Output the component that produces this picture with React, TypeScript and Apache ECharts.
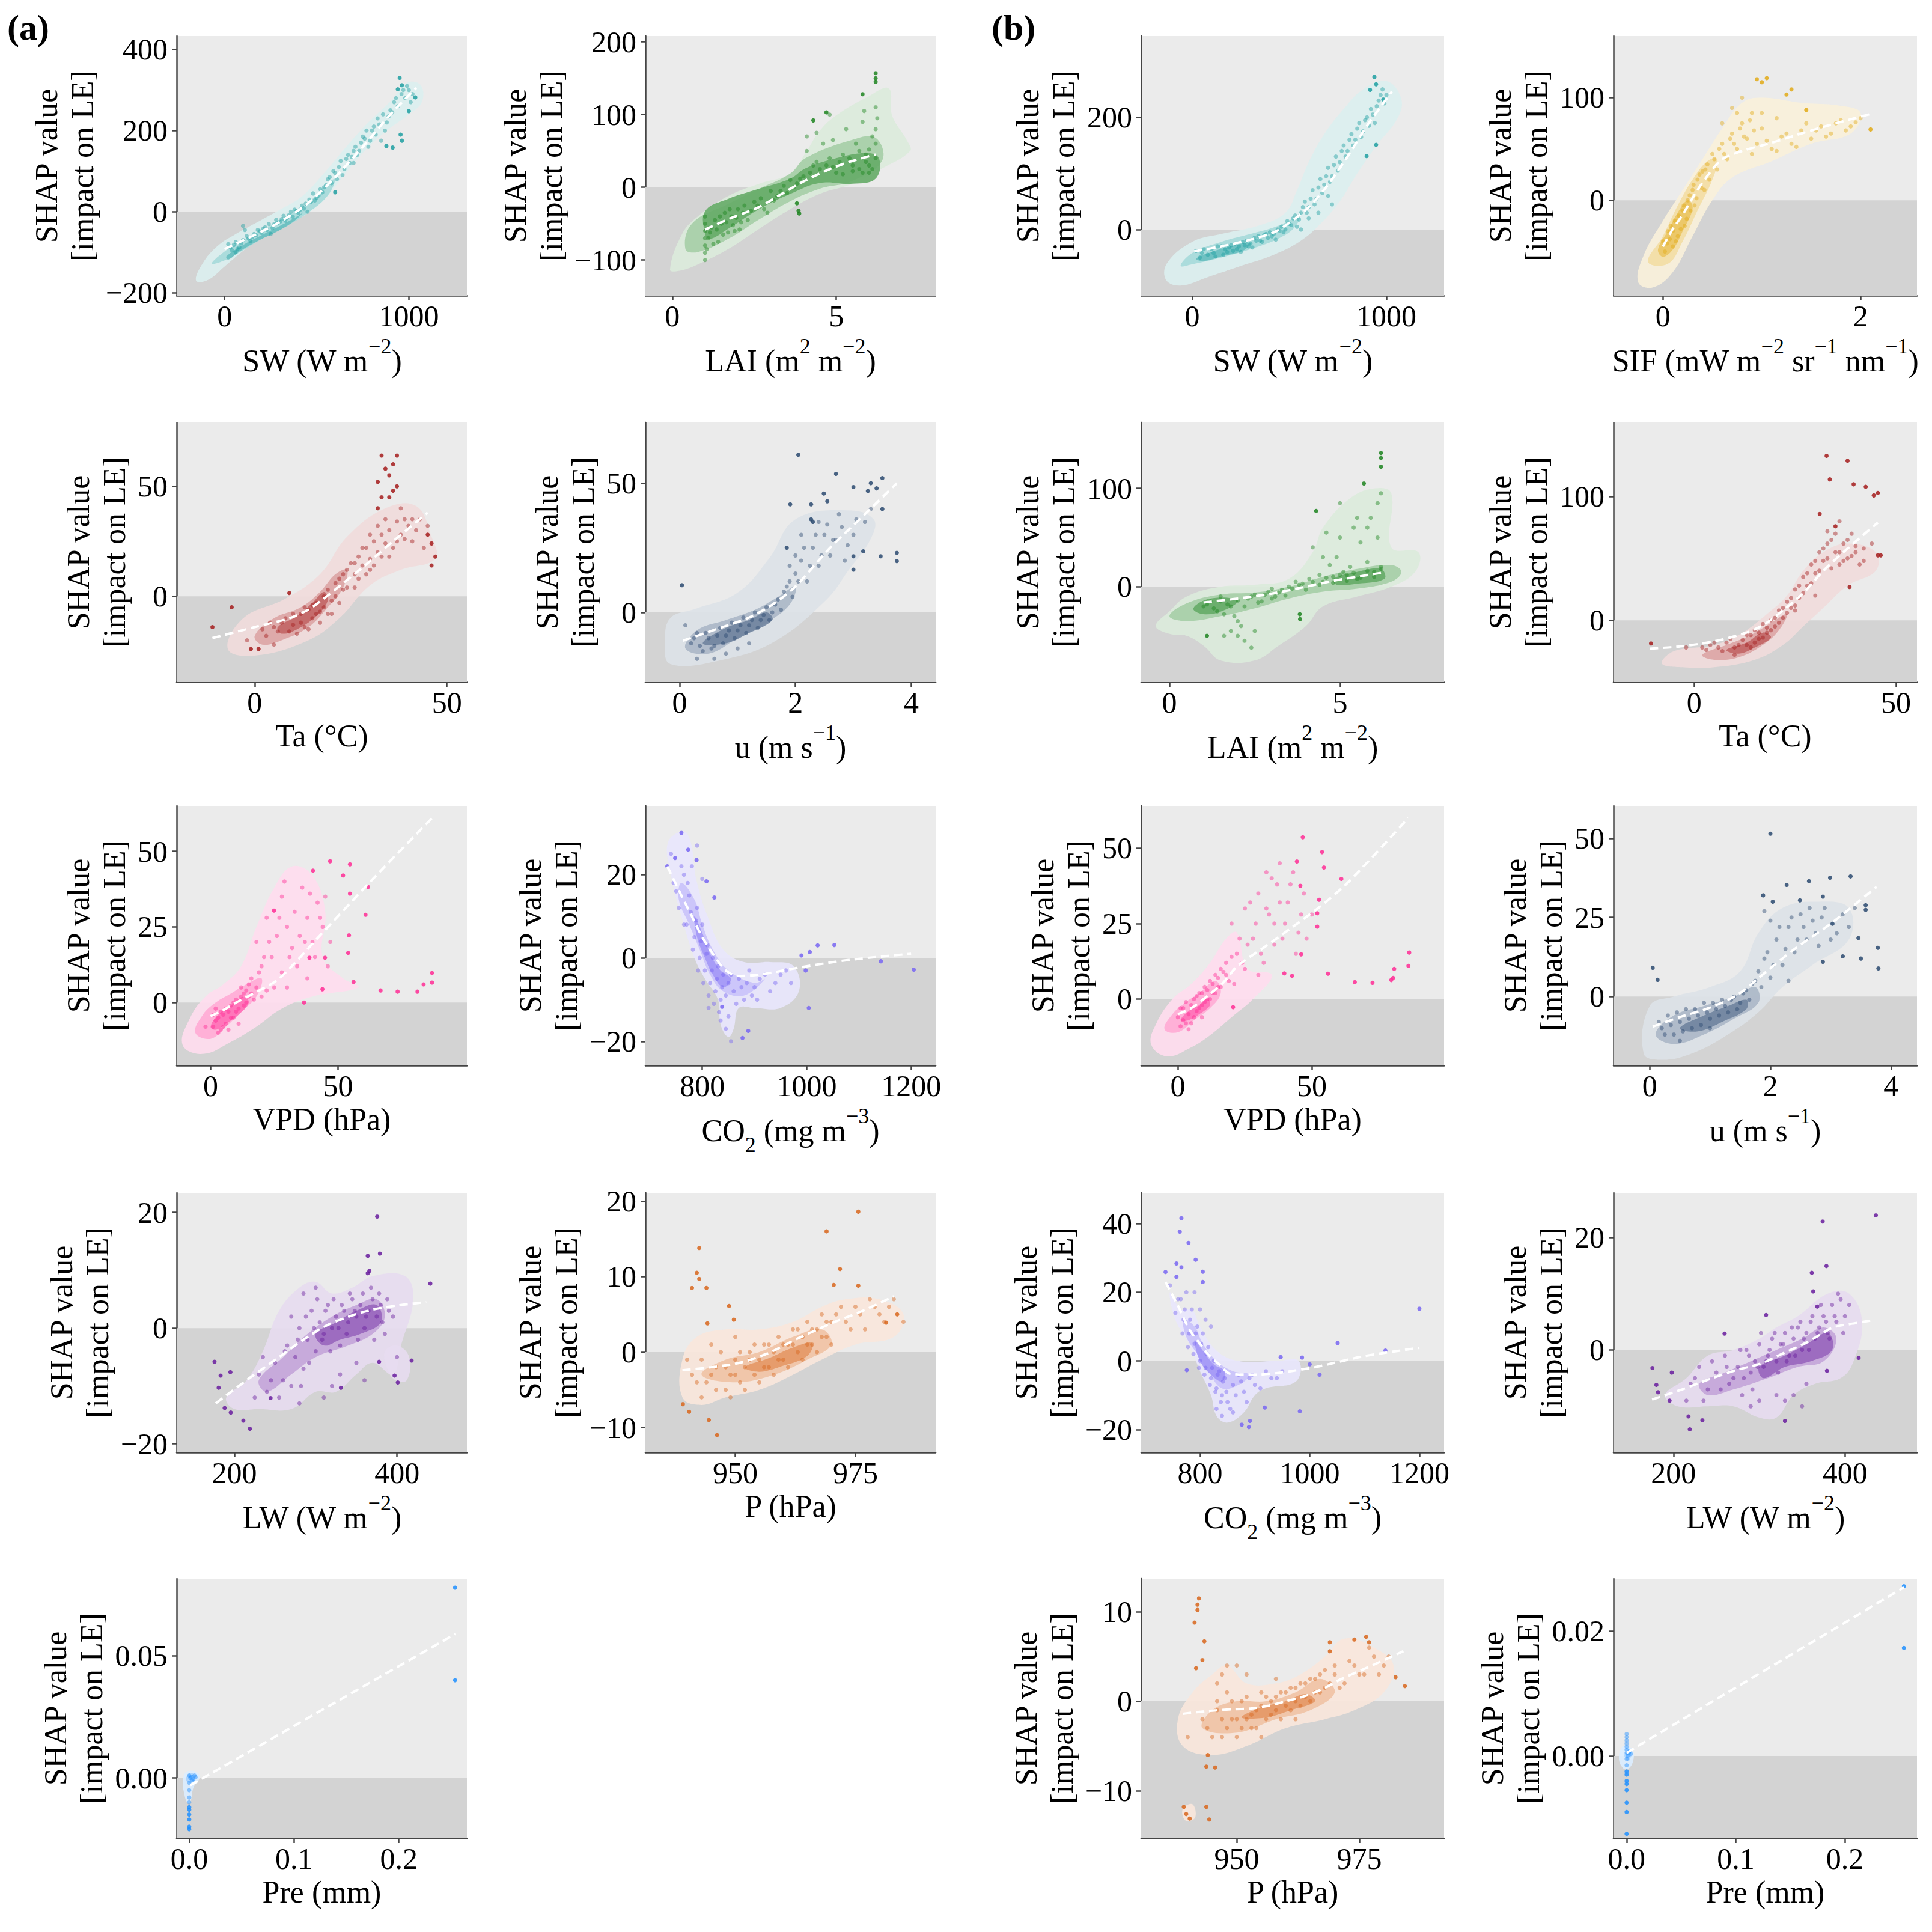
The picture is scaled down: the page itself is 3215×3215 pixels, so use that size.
import React, { useEffect, useRef } from 'react';
import * as echarts from 'echarts';

const FONT = 'Liberation Serif';
const BG_UP = '#ebebeb';
const BG_DOWN = '#d3d3d3';
const AXC = '#444444';
const KDE_TINT = [0.84, 0.6, 0.32];
const KDE_OPACITY = 0.9;

// ---------- (a) SW ----------
const SW_A_XR = [-260, 1315];
const SW_A_YR = [-207, 433];
const SW_A_XT = [0, 1000];
const SW_A_YT = [-200, 0, 200, 400];
const SW_A_TREND = [[0, -92], [150, -60], [300, -25], [450, 20], [600, 85], [750, 160], [900, 240], [1040, 305]];
const SW_A_KDE = [
  [[[-155, -170], [-120, -128], [-40, -85], [60, -55], [180, -25], [300, 5], [420, 38], [540, 95], [660, 160], [780, 220], [900, 272], [990, 318], [1065, 312], [1070, 270], [1000, 240], [880, 200], [760, 150], [640, 85], [520, 20], [400, -18], [260, -50], [120, -90], [0, -135], [-90, -168]]],
  [[[-70, -128], [0, -98], [100, -70], [220, -40], [340, -10], [460, 25], [560, 70], [600, 80], [560, 40], [460, 0], [340, -35], [220, -62], [100, -95], [0, -120]]],
  [[[10, -110], [100, -82], [200, -58], [300, -35], [400, -10], [430, 0], [380, -22], [280, -50], [180, -72], [80, -98], [20, -118]]],
];
const SW_A_PTS = [[20, -80], [40, -95], [60, -75], [80, -88], [100, -70], [120, -60], [140, -72], [160, -55], [180, -45], [200, -52], [220, -38], [240, -30], [260, -40], [280, -20], [300, -25], [320, -10], [340, -15], [360, 0], [380, 5], [400, -3], [420, 15], [440, 20], [460, 30], [480, 45], [500, 35], [520, 55], [540, 60], [560, 80], [580, 70], [600, 95], [620, 110], [640, 90], [660, 130], [680, 120], [700, 150], [720, 140], [740, 170], [760, 180], [780, 160], [800, 200], [820, 190], [840, 215], [860, 240], [880, 220], [900, 250], [920, 270], [940, 260], [960, 290], [980, 280], [1000, 300], [1020, 290], [100, -35], [110, -45], [60, -100], [250, -55], [450, 0], [700, 120], [850, 175],
  [30, -88], [50, -82], [70, -92], [90, -78], [130, -66], [150, -62], [170, -58], [190, -48], [210, -42], [230, -45], [270, -30], [290, -28], [310, -18], [330, -22], [350, -8], [370, -12], [390, 2], [410, 5], [430, 8], [470, 25], [490, 28], [510, 40], [530, 48], [550, 65], [570, 85], [590, 100], [610, 80], [630, 125], [650, 105], [670, 140], [690, 135], [710, 160], [730, 150], [750, 185], [770, 200], [790, 175], [810, 210], [830, 230], [870, 200], [890, 235], [910, 245], [930, 280], [970, 300], [990, 310], [1010, 270]];
const SW_A_OUT = [[950, 330], [962, 312], [940, 302], [1035, 282], [1000, 248], [955, 190], [962, 175], [878, 162], [912, 158], [600, 48]];

// ---------- (a) LAI ----------
const LAI_A_XR = [-0.82, 8.03];
const LAI_A_YR = [-149, 208];
const LAI_A_XT = [0, 5];
const LAI_A_YT = [-100, 0, 100, 200];
const LAI_A_TREND = [[1.0, -58], [1.8, -42], [2.6, -28], [3.3, -10], [4.0, 8], [4.7, 23], [5.4, 35], [6.2, 45]];
const LAI_A_KDE = [
  [[[-0.07, -113], [0.3, -64], [0.78, -40], [1.7, -12], [2.65, 5], [3.6, 19], [4.06, 47], [4.5, 78], [5.0, 99], [5.94, 124], [6.6, 136], [6.7, 99], [7.16, 64], [7.25, 50], [6.4, 26], [5.5, 5], [4.5, -9], [3.6, -30], [2.65, -57], [1.7, -85], [0.78, -106], [0.2, -115]]],
  [[[0.4, -85], [0.6, -50], [1.7, -23], [2.65, -2], [3.6, 19], [4.06, 40], [5.47, 65], [6.2, 68], [6.4, 37], [5.5, 9], [4.5, -2], [3.6, -19], [2.65, -44], [1.7, -71], [0.78, -89]]],
  [[[1.0, -64], [1.0, -33], [1.7, -16], [2.65, -2], [3.6, 12], [4.06, 26], [5.0, 40], [5.9, 47], [6.3, 40], [6.2, 12], [5.5, 5], [4.5, 6], [3.6, -9], [2.65, -30], [1.7, -57], [1.15, -71]]],
];
const LAI_A_PTS = [[1.0, -100], [1.0, -80], [1.0, -60], [1.0, -40], [1.1, -70], [1.2, -55], [1.3, -45], [1.4, -75], [1.5, -50], [1.6, -35], [1.8, -40], [1.9, -60], [2.0, -30], [2.2, -25], [2.3, -45], [2.5, -20], [2.7, -15], [2.8, -30], [3.0, -5], [3.2, -12], [3.4, 2], [3.6, 10], [3.8, 5], [4.0, 15], [4.1, 50], [4.1, 70], [4.3, 30], [4.5, 25], [4.6, 60], [4.8, 100], [4.8, 40], [5.0, 20], [5.1, 35], [5.3, 80], [5.5, 30], [5.6, 60], [5.7, 25], [5.8, 90], [5.9, 45], [6.0, 30], [6.1, 70], [6.2, 110], [6.25, 95], [6.2, 40], [6.1, 25], [5.4, 40], [4.7, 30], [2.1, -48], [1.7, -62], [2.9, -35], [3.5, -8], [5.2, 18], [5.8, 20], [6.0, 52],
  [1.0, -90], [1.0, -70], [1.0, -50], [1.05, -85], [1.15, -62], [1.25, -78], [1.35, -58], [1.45, -40], [1.55, -65], [1.65, -48], [1.75, -30], [1.85, -52], [1.95, -42], [2.05, -58], [2.15, -35], [2.4, -32], [2.6, -25], [3.1, -18], [3.3, -5], [3.7, 0], [3.9, 12], [4.2, 20], [4.4, 35], [4.9, 28], [5.2, 45], [5.5, 22], [5.7, 50], [5.9, 35], [6.0, 20], [6.2, 60], [6.2, 80], [5.85, 105], [4.4, 75], [4.9, 65]];
const LAI_A_OUT = [[3.85, -32], [3.87, -36], [3.8, -22], [4.3, 92], [5.8, 128], [6.2, 145], [6.2, 150], [6.2, 157], [4.7, 103]];

// ---------- (a) Ta ----------
const TA_A_XR = [-20.3, 55.2];
const TA_A_YR = [-39, 79];
const TA_A_XT = [0, 50];
const TA_A_YT = [0, 50];
const TA_A_TREND = [[-11, -19], [0, -14], [9, -10], [14, -6], [18, -1], [23, 6], [28, 13], [36, 25], [45, 38]];
const TA_A_KDE = [
  [[[-7, -24], [-3, -10], [8, -1], [17, 10], [24, 27], [34, 40], [42, 41], [46, 27], [47, 17], [38, 12], [30, 5], [22, -10], [14, -20], [0, -27]]],
  [[[0, -18], [5, -10], [12, -5], [17, 2], [21, 10], [24, 12], [23, 4], [19, -5], [14, -14], [7, -20], [2, -22]]],
  [[[6, -14], [11, -9], [15, -3], [18, 2], [19, -2], [16, -9], [11, -15], [7, -17]]],
];
const TA_A_PTS = [[2, -15], [4, -12], [6, -16], [8, -10], [10, -13], [12, -8], [13, -14], [14, -6], [15, -10], [16, -3], [17, -7], [18, 0], [19, 3], [20, -2], [21, 6], [22, 8], [23, 3], [24, 12], [25, 15], [26, 10], [27, 18], [28, 14], [29, 22], [30, 17], [31, 25], [32, 20], [33, 28], [34, 24], [35, 30], [36, 22], [37, 34], [38, 28], [39, 26], [40, 32], [41, 35], [42, 30], [30, 12], [26, 4], [20, -8], [11, -17], [-2, -20], [5, -22], [44, 22], [45, 32],
  [3, -18], [5, -14], [7, -12], [9, -16], [10, -8], [12, -12], [13, -5], [14, -15], [15, -4], [16, -8], [17, -12], [18, -5], [19, -8], [21, 0], [22, -3], [23, 10], [24, 4], [26, 15], [27, 8], [28, 22], [30, 28], [31, 14], [32, 32], [34, 35], [35, 18], [37, 25], [39, 35], [41, 25], [43, 35], [38, 40], [33, 18], [29, 10]];
const TA_A_OUT = [[33, 64], [37, 64], [34, 58], [36, 60], [35, 55], [32, 52], [36, 48], [37, 50], [33, 45], [35, 45], [32, 40], [45, 28], [46, 24], [46, 14], [47, 18], [-11, -14], [-6, -5], [9, 1.5], [-1, -24], [1, -24]];

// ---------- (a) u ----------
const U_A_XR = [-0.59, 4.42];
const U_A_YR = [-27, 73.5];
const U_A_XT = [0, 2, 4];
const U_A_YT = [0, 50];
const U_A_TREND = [[0.06, -11], [0.7, -6], [1.2, -2], [1.6, 3], [2.0, 10], [2.6, 25], [3.2, 38], [3.75, 50]];
const U_A_KDE = [
  [[[-0.16, -20], [0.74, -18.4], [1.64, -11.3], [2.54, 5], [2.9, 15.8], [3.3, 28.5], [3.35, 36], [2.9, 39.5], [2.0, 36], [1.55, 21], [1.0, 7.6], [0.27, 1.3], [-0.16, -2.2], [-0.25, -11.3]]],
  [[[0.1, -14], [0.3, -7], [0.8, -3], [1.3, 1], [1.7, 6], [2.0, 10], [1.9, 3], [1.5, -4], [1.0, -10], [0.5, -16]]],
  [[[0.4, -12], [0.8, -6], [1.2, -3], [1.5, 0], [1.6, -3], [1.2, -8], [0.8, -12]]],
];
const U_A_PTS = [[0.2, -12], [0.3, -8], [0.4, -15], [0.5, -10], [0.6, -13], [0.7, -6], [0.8, -9], [0.9, -4], [1.0, -7], [1.1, -2], [1.2, -5], [1.3, 0], [1.4, -3], [1.5, 2], [1.6, 0], [1.7, 5], [1.8, 8], [1.9, 12], [2.0, 15], [2.1, 20], [2.2, 12], [2.3, 25], [2.4, 18], [2.5, 30], [2.6, 22], [2.7, 28], [2.8, 33], [2.9, 26], [2.1, 30], [2.0, 22], [2.4, 35], [1.9, 18], [0.1, -5], [0.3, -18], [3.0, 30], [3.2, 35], [1.2, -12], [0.8, -16],
  [0.25, -10], [0.35, -13], [0.45, -8], [0.55, -14], [0.65, -9], [0.75, -12], [0.85, -7], [0.95, -10], [1.05, -5], [1.15, -8], [1.25, -3], [1.35, -6], [1.45, -1], [1.55, -3], [1.65, 3], [1.75, 1], [1.85, 10], [1.95, 6], [2.05, 12], [2.15, 25], [2.25, 18], [2.35, 30], [2.45, 22], [2.55, 34], [2.65, 28], [2.75, 38], [2.85, 20], [3.05, 36], [3.3, 40], [1.0, -14], [0.6, -18]];
const U_A_OUT = [[0.04, 10.5], [2.05, 61], [2.7, 53.6], [3.5, 52], [1.91, 41.8], [2.27, 41.8], [2.49, 46], [2.55, 43], [3.0, 48.5], [3.25, 47], [3.3, 50], [3.4, 48], [3.5, 40], [2.27, 36], [2.3, 35], [1.85, 25], [3.17, 23.6], [3.0, 21.7], [3.0, 16.5], [3.47, 21.7], [3.75, 23], [3.75, 19.8]];

// ---------- (a) VPD ----------
const VPD_A_XR = [-13.3, 100.6];
const VPD_A_YR = [-20.8, 65];
const VPD_A_XT = [0, 50];
const VPD_A_YT = [0, 25, 50];
const VPD_A_TREND = [[0, -4.5], [5, -2.5], [10, 0], [18, 3.5], [27, 8], [45, 24], [65, 42], [87, 61]];
const VPD_A_KDE = [
  [[[-11, -14], [-8, -5], [-2, 2], [5, 6], [12, 12], [18, 25], [25, 38], [32, 45], [40, 42], [45, 30], [44, 15], [52, 8], [58, 5], [40, 2], [28, -2], [18, -8], [8, -13], [-3, -17]]],
  [[[-6, -10], [-3, -4], [2, 0], [8, 3], [14, 6], [20, 8], [18, 2], [12, -3], [6, -8], [0, -12]]],
  [[[0, -8], [3, -4], [8, -1], [13, 2], [15, 0], [11, -4], [6, -7], [2, -9]]],
];
const VPD_A_PTS = [[18, 20], [20, 12], [22, 28], [24, 15], [26, 22], [28, 35], [28, 10], [30, 25], [32, 18], [33, 30], [35, 22], [36, 38], [38, 28], [40, 20], [42, 33], [44, 25], [46, 12], [38, 8], [30, 5], [25, 5], [22, 4], [2, -6], [4, -3], [5, -8], [6, -2], [8, -5], [9, 0], [10, -3], [12, 2], [13, -1], [14, 4], [16, 3], [3, -10], [7, -9], [1, -4], [11, -7], [15, 6], [17, 1], [20, 2], [-2, -8],
  [1, -8], [2, -2], [3, -5], [4, -9], [5, -4], [6, -7], [7, -3], [8, -1], [9, -5], [10, 1], [11, -2], [12, 5], [13, 3], [14, 0], [15, 2], [16, 8], [18, 5], [19, 10], [21, 15], [23, 20], [27, 28], [29, 40], [31, 15], [34, 12], [37, 20], [39, 36], [41, 15], [43, 28], [45, 35], [47, 20]];
const VPD_A_OUT = [[40.2, 43.6], [46.9, 46.7], [54.7, 45.7], [52, 42], [61.8, 38.2], [54.7, 36], [24.9, 30.4], [60.8, 29], [54.3, 22.2], [54, 16.4], [38.8, 14.8], [44.9, 14.8], [56.1, 6.8], [43.9, 4.4], [36.7, 0], [66.7, 4], [73.4, 3.6], [81.2, 3.6], [83.6, 6], [86.9, 9.8], [86.9, 6.6]];

// ---------- (a) CO2 ----------
const CO2_A_XR = [691, 1247];
const CO2_A_YR = [-25.8, 36.5];
const CO2_A_XT = [800, 1000, 1200];
const CO2_A_YT = [-20, 0, 20];
const CO2_A_TREND = [[733, 22], [760, 15], [780, 10], [800, 5], [820, 1], [845, -3], [870, -4.3], [910, -4], [990, -2.2], [1080, -0.5], [1200, 1]];
const CO2_A_KDE = [
  [[[735, 28], [770, 30], [790, 18], [810, 10], [840, 2], [880, -1], [930, -1], [975, -2], [985, -8], [950, -12], [900, -12], [870, -12], [860, -17], [850, -19], [835, -16], [830, -10], [805, -5], [785, 0], [760, 10], [740, 20]]],
  [[[760, 18], [785, 14], [800, 8], [820, 2], [850, -3], [900, -6], [920, -5], [880, -9], [840, -8], [815, -4], [795, 2], [775, 8], [755, 14]]],
  [[[785, 10], [800, 6], [815, 1], [835, -3], [855, -5], [840, -7], [820, -4], [805, 0], [790, 5]]],
];
const CO2_A_PTS = [[745, 18], [755, 12], [765, 20], [770, 8], [775, 15], [785, 5], [790, 12], [795, 0], [800, 8], [805, -3], [810, 3], [815, -6], [820, 0], [825, -8], [830, -2], [835, -10], [840, -4], [850, -6], [860, -8], [870, -5], [880, -10], [890, -3], [900, -7], [920, -4], [940, -6], [960, -3], [780, 22], [790, 27], [800, 19], [812, -12], [850, -14], [905, -10], [835, -15],
  [740, 25], [750, 16], [760, 22], [765, 8], [772, 18], [778, 11], [782, 2], [788, 9], [792, -3], [798, 4], [802, -6], [808, 1], [812, -9], [818, -3], [822, -11], [828, -5], [832, -13], [838, -7], [845, -9], [855, -4], [865, -11], [875, -7], [885, -6], [895, -9], [910, -5], [930, -8], [950, -4], [970, -6], [845, -17], [855, -20]];
const CO2_A_OUT = [[760, 30], [748, 24], [733, 22], [773, 26], [789, 23.5], [808, 18.4], [823, 14.5], [838, -11.7], [888, -17.5], [877, -19.2], [990, 0.6], [1006, 1.4], [1021, 3], [1053, 3.1], [1142, -0.8], [1205, -2.8], [1004, -12], [998, -3]];

// ---------- (a) LW ----------
const LW_A_XR = [129, 486];
const LW_A_YR = [-21.5, 23.4];
const LW_A_XT = [200, 400];
const LW_A_YT = [-20, 0, 20];
const LW_A_TREND = [[177, -13], [215, -9], [253, -5.2], [285, -2], [314, 0.5], [345, 2.2], [370, 3.2], [400, 3.9], [436, 4.5]];
const LW_A_KDE = [
  [[[190, -12], [215, -9], [235, -4], [255, 3], [280, 7], [300, 8], [320, 6], [345, 7], [370, 9], [410, 9], [420, 5], [405, -3], [395, -8], [370, -6], [350, -8], [325, -11], [300, -11], [270, -14], [230, -14], [200, -14]],
   [[385, -4], [400, -3], [415, -5], [412, -9], [398, -9], [388, -7]]],
  [[[230, -9], [260, -5], [290, -1], [320, 2], [350, 4], [375, 5], [385, 2], [370, -1], [340, -3], [300, -5], [270, -8], [240, -11]]],
  [[[300, -1], [325, 1], [350, 3], [375, 4], [380, 1], [355, -1], [330, -2], [310, -3]]],
];
const LW_A_PTS = [[230, -8], [240, -11], [250, -6], [260, -9], [265, -3], [275, -5], [280, 0], [285, -7], [290, -2], [295, 3], [300, -4], [305, 1], [310, -1], [315, 4], [320, 0], [325, 2], [330, -3], [335, 3], [340, 1], [345, 5], [350, 2], [355, 4], [360, 0], [365, 3], [370, 5], [375, 2], [380, 4], [385, -1], [390, 3], [300, 7], [285, 6], [270, 2], [330, -8], [350, -6], [320, -10],
  [225, -12], [235, -5], [245, -9], [255, -12], [262, -4], [270, -10], [278, -2], [282, -10], [288, 2], [292, -6], [298, 0], [302, 5], [308, -2], [312, 3], [318, -4], [322, 5], [328, 0], [332, 4], [338, -1], [342, 6], [348, 3], [352, -2], [358, 6], [362, 2], [368, 7], [372, -2], [378, 6], [382, 1], [388, 5], [395, 2], [400, -5], [310, -12], [280, -13], [360, -9]];
const LW_A_OUT = [[375.6, 19.3], [364, 12.5], [379, 12.9], [366, 9.9], [364, 9.5], [441, 7.7], [175.5, -5.8], [183, -8.2], [180.6, -10.3], [195, -7.6], [188, -13.8], [195.5, -14.6], [211, -16], [219, -17.4], [244.5, -12.1], [331, -10.3], [378, -5.8], [397, -8.2], [401, -9.4], [418, -5.6]];

// ---------- (a) P ----------
const P_A_XR = [931.3, 991.7];
const P_A_YR = [-13.3, 21.1];
const P_A_XT = [950, 975];
const P_A_YT = [-10, 0, 10, 20];
const P_A_TREND = [[939, -2.4], [945, -2.0], [951, -1.4], [957, -0.1], [963, 1.8], [970, 3.8], [977, 5.6], [983, 7.4]];
const P_A_KDE = [
  [[[939, -6], [939, -1], [942, 2], [948, 3], [955, 3], [962, 4], [968, 6], [973, 7], [980, 7], [985, 5], [983, 2], [975, 1], [968, -1], [962, -3], [955, -5], [948, -6], [943, -7]]],
  [[[943, -3], [948, -1], [955, 0], [962, 2], [968, 3], [970, 1], [965, -1], [958, -3], [950, -4]]],
  [[[952, -2], [957, -0.8], [962, 0.6], [966, 1.2], [965, -0.5], [960, -1.8], [955, -2.6]]],
];
const P_A_PTS = [[941, -3], [943, -1], [944, -4], [946, -2], [947, 0], [948, -5], [949, -3], [950, -1], [951, -4], [952, -2], [953, 0], [954, -3], [955, -1], [956, 1], [957, -2], [958, 0], [959, 2], [960, -1], [961, 1], [962, 3], [963, 0], [964, 2], [965, 4], [966, 1], [967, 3], [968, 5], [969, 2], [970, 4], [972, 6], [974, 3], [976, 5], [978, 7], [980, 5], [982, 6], [985, 4],
  [940, -1], [942, -4], [943, -6], [945, -3], [946, -5], [948, -2], [949, -6], [950, -3], [951, 0], [952, -5], [953, -1], [954, 1], [955, -4], [956, -2], [957, 1], [958, -3], [959, -1], [960, 1], [961, -2], [962, 1], [963, 3], [964, -1], [965, 1], [966, 3], [967, 0], [968, 2], [969, 4], [970, 1], [971, 5], [973, 4], [975, 6], [977, 3], [979, 6], [981, 4], [983, 7], [945, 1], [950, 2]];
const P_A_OUT = [[942.5, 13.8], [942, 10.5], [942.5, 9.7], [941, 8.5], [944, 8.5], [948.7, 6.1], [949.7, 4.3], [944.2, 3.8], [939.1, -6.9], [940.4, -7.9], [944.5, -9.0], [946.2, -11.0], [969, 16], [975.6, 18.6], [971.8, 11.0], [970.5, 8.9], [975.6, 8.8], [981.4, 3.9], [983.7, 5]];

// ---------- (a) Pre ----------
const PRE_A_XR = [-0.012, 0.265];
const PRE_A_YR = [-0.0247, 0.0816];
const PRE_A_XT = [0, 0.1, 0.2];
const PRE_A_YT = [0, 0.05];
const PRE_A_TREND = [[0.001, -0.003], [0.254, 0.059]];
const PRE_A_KDE = [
  [[[-0.006, -0.002], [-0.004, 0.002], [0.002, 0.003], [0.008, 0.002], [0.01, 0], [0.004, -0.004], [0.001, -0.01], [-0.002, -0.01], [-0.005, -0.006]]],
  [[[-0.003, -0.001], [-0.001, 0.0015], [0.003, 0.002], [0.005, 0.0005], [0.002, -0.002]]],
  [],
];
const PRE_A_PTS = [[0, 0.001], [0.001, 0], [0.002, 0.0005], [0.003, -0.001], [0, -0.002], [0, -0.005], [0, -0.008], [0, -0.01], [0.005, 0.001], [0.004, -0.0005], [0.006, 0.0003]];
const PRE_A_OUT = [[0.2537, 0.0779], [0.2537, 0.04], [0, -0.012], [0, -0.013], [0, -0.015], [0, -0.017], [0, -0.02], [0, -0.021]];

// ---------- (b) SW ----------
const SW_B_XR = [-263, 1297];
const SW_B_YR = [-118, 345];
const SW_B_XT = [0, 1000];
const SW_B_YT = [0, 200];
const SW_B_TREND = [[10, -39], [150, -30], [300, -18], [420, -5], [500, 12], [600, 40], [700, 80], [800, 130], [900, 185], [1028, 246]];
const SW_B_KDE = [
  [[[-135, -90], [-130, -60], [0, -22], [150, -8], [350, 8], [480, 30], [540, 70], [600, 120], [680, 170], [780, 215], [880, 250], [1000, 265], [1075, 235], [1060, 200], [950, 150], [850, 100], [760, 50], [660, 10], [560, -20], [420, -45], [250, -65], [80, -85], [-60, -100]]],
  [[[-60, -65], [0, -42], [150, -22], [300, -8], [430, 5], [520, 20], [560, 30], [530, 5], [450, -15], [300, -35], [150, -50], [0, -62]]],
  [[[20, -52], [100, -40], [200, -30], [300, -24], [260, -38], [150, -48], [60, -56]]],
];
const SW_B_PTS = [[50, -42], [100, -35], [120, -48], [150, -30], [180, -40], [200, -28], [230, -35], [260, -22], [290, -30], [320, -15], [350, -20], [380, -8], [410, -12], [440, 0], [470, -5], [500, 10], [520, 20], [540, 5], [560, 30], [580, 50], [600, 40], [620, 70], [640, 55], [660, 90], [680, 80], [700, 110], [720, 95], [740, 130], [760, 120], [780, 150], [800, 140], [820, 170], [840, 160], [860, 190], [880, 175], [900, 200], [920, 215], [940, 190], [960, 230], [980, 250], [1000, 240], [560, 0], [600, 20], [650, 30], [700, 60], [720, 45],
  [20, -38], [40, -50], [60, -35], [80, -45], [110, -42], [130, -30], [160, -45], [170, -35], [190, -32], [210, -38], [220, -25], [240, -30], [250, -40], [270, -28], [280, -20], [300, -25], [310, -32], [330, -20], [340, -12], [360, -22], [370, -10], [390, -15], [400, -5], [420, -8], [430, -18], [450, -2], [460, 5], [480, 0], [490, 15], [510, 8], [530, 25], [550, 18], [570, 40], [590, 30], [610, 55], [630, 45], [650, 75], [670, 65], [690, 95], [710, 85], [730, 115], [750, 105], [770, 140], [790, 130], [810, 160], [830, 150], [850, 180], [870, 165], [890, 195], [910, 185], [930, 205], [950, 220], [970, 240], [990, 225]];
const SW_B_OUT = [[938, 272], [947, 259], [916, 249], [947, 151], [898, 131], [984, 232]];

// ---------- (b) SIF ----------
const SIF_B_XR = [-0.5, 2.57];
const SIF_B_YR = [-93, 160];
const SIF_B_XT = [0, 2];
const SIF_B_YT = [0, 100];
const SIF_B_TREND = [[0, -45], [0.1, -28], [0.2, -14], [0.35, 10], [0.5, 30], [0.6, 40], [0.8, 48], [1.1, 56], [1.4, 65], [1.75, 75], [2.1, 84]];
const SIF_B_KDE = [
  [[[-0.25, -80], [-0.2, -55], [0, -20], [0.2, 10], [0.4, 40], [0.6, 70], [0.8, 95], [1.0, 100], [1.4, 95], [1.8, 92], [2.0, 85], [1.9, 65], [1.5, 55], [1.1, 38], [0.7, 22], [0.5, 0], [0.3, -35], [0.1, -70], [-0.1, -85]]],
  [[[-0.15, -60], [0, -35], [0.15, -5], [0.3, 20], [0.45, 38], [0.55, 40], [0.5, 20], [0.35, -10], [0.2, -40], [0.05, -62]]],
  [[[-0.05, -48], [0.05, -30], [0.15, -12], [0.25, 0], [0.3, -8], [0.2, -30], [0.1, -48], [0.0, -55]]],
];
const SIF_B_PTS = [[0.0, -40], [0.05, -30], [0.1, -45], [0.12, -20], [0.15, -35], [0.2, -10], [0.22, -25], [0.25, 0], [0.3, 10], [0.32, -5], [0.35, 20], [0.4, 28], [0.42, 10], [0.45, 35], [0.5, 45], [0.55, 30], [0.6, 55], [0.65, 40], [0.7, 65], [0.75, 50], [0.8, 75], [0.85, 60], [0.9, 85], [0.95, 55], [1.0, 70], [1.1, 50], [1.2, 62], [1.3, 55], [1.4, 68], [1.5, 60], [1.6, 72], [1.7, 65], [1.8, 78], [1.9, 72], [2.0, 80], [0.7, 90], [0.8, 100], [0.9, 45], [1.15, 80], [1.45, 75],
  [0.02, -50], [0.04, -42], [0.07, -38], [0.08, -25], [0.1, -30], [0.13, -40], [0.16, -15], [0.18, -28], [0.21, -5], [0.24, -18], [0.27, 5], [0.28, -10], [0.31, 15], [0.34, 2], [0.37, 25], [0.39, 12], [0.43, 30], [0.47, 20], [0.52, 40], [0.57, 50], [0.62, 45], [0.68, 60], [0.72, 55], [0.78, 70], [0.82, 62], [0.88, 78], [0.92, 68], [1.05, 58], [1.15, 48], [1.25, 65], [1.35, 52], [1.55, 68], [1.65, 62], [1.75, 75], [1.85, 68], [1.95, 76], [0.6, 75], [0.75, 85], [1.0, 85]];
const SIF_B_OUT = [[0.95, 118], [1.0, 115], [1.05, 119], [1.25, 103], [1.3, 108], [1.45, 88], [2.1, 69]];

// ---------- (b) LAI ----------
const LAI_B_XR = [-0.83, 8.05];
const LAI_B_YR = [-97, 167];
const LAI_B_XT = [0, 5];
const LAI_B_YT = [0, 100];
const LAI_B_TREND = [[1.0, -16], [2.0, -12], [3.0, -7], [4.0, 0], [4.8, 6], [5.5, 10], [6.2, 14]];
const LAI_B_KDE = [
  [[[-0.4, -40], [0, -25], [0.5, -10], [1.5, 0], [2.5, 2], [3.5, 8], [4.2, 35], [4.5, 60], [5.3, 90], [6.0, 100], [6.5, 95], [6.5, 40], [7.3, 35], [7.2, 15], [6.5, 0], [5.5, -10], [4.5, -20], [4.0, -40], [3.2, -60], [2.5, -75], [1.5, -75], [1.0, -60], [0.5, -50], [0, -48]]],
  [[[0, -30], [0.5, -17], [1.5, -8], [2.5, -6], [3.5, 0], [4.5, 10], [5.5, 18], [6.5, 22], [6.8, 15], [6.5, 5], [5.5, -2], [4.5, -5], [3.5, -12], [2.5, -22], [1.5, -30], [0.5, -35]]],
  [[[0.7, -22], [1.2, -12], [2.0, -14], [1.6, -24], [1.0, -28]], [[4.8, 8], [5.5, 15], [6.2, 18], [6.3, 8], [5.5, 3], [4.9, 2]]],
];
const LAI_B_PTS = [[1.0, -20], [1.2, -15], [1.4, -25], [1.5, -10], [1.7, -18], [1.9, -30], [2.0, -50], [2.1, -40], [2.2, -55], [2.3, -12], [2.5, -8], [2.7, -15], [2.9, -5], [3.1, -10], [3.3, -3], [3.5, 0], [3.7, 5], [3.9, 3], [4.1, 8], [4.2, 40], [4.4, 12], [4.6, 55], [4.8, 10], [4.9, 30], [5.0, 85], [5.1, 15], [5.3, 20], [5.4, 60], [5.5, 8], [5.6, 45], [5.8, 25], [5.9, 70], [6.0, 15], [6.1, 50], [6.2, 95], [6.2, 20], [5.2, 12], [4.5, 5], [3.0, -2], [2.4, -62], [1.8, -45],
  [1.1, -18], [1.3, -22], [1.5, -15], [1.6, -28], [1.8, -20], [2.0, -14], [2.2, -20], [2.4, -10], [2.6, -16], [2.8, -8], [3.0, -12], [3.2, -6], [3.4, -9], [3.6, -2], [3.8, 2], [4.0, -3], [4.2, 5], [4.4, 2], [4.6, 9], [4.8, 4], [5.0, 12], [5.2, 6], [5.4, 14], [5.6, 9], [5.8, 16], [6.0, 10], [6.2, 18], [4.5, 30], [5.0, 50], [5.5, 70], [5.8, 60], [6.1, 85], [4.7, 22], [2.0, -35], [1.6, -50], [2.5, -45]];
const LAI_B_OUT = [[1.1, -50], [3.82, -28], [3.83, -33], [6.2, 122], [6.2, 131], [6.2, 136], [4.3, 77], [5.7, 105]];

// ---------- (b) Ta ----------
const TA_B_XR = [-20, 55.2];
const TA_B_YR = [-50, 160];
const TA_B_XT = [0, 50];
const TA_B_YT = [0, 100];
const TA_B_TREND = [[-11, -23], [-3, -21], [5, -17], [12, -11], [17, -4], [22, 8], [27, 22], [32, 40], [38, 58], [45.5, 79]];
const TA_B_KDE = [
  [[[-8, -35], [-5, -25], [5, -20], [12, -10], [18, 5], [23, 20], [27, 40], [32, 55], [38, 62], [45, 55], [45, 40], [38, 28], [32, 10], [27, -5], [22, -20], [15, -32], [5, -38], [-3, -38]]],
  [[[2, -28], [8, -20], [14, -12], [20, 0], [23, 5], [21, -8], [17, -20], [11, -30], [5, -32]]],
  [[[8, -24], [13, -18], [17, -10], [19, -14], [15, -22], [11, -27]]],
];
const TA_B_PTS = [[2, -22], [5, -18], [7, -25], [9, -15], [11, -20], [13, -12], [14, -22], [15, -8], [16, -15], [17, -3], [18, -10], [19, 0], [20, -5], [21, 8], [22, 2], [23, 15], [24, 10], [25, 25], [26, 18], [27, 35], [28, 28], [29, 45], [30, 38], [31, 55], [32, 48], [33, 62], [34, 42], [35, 70], [36, 55], [37, 48], [38, 65], [39, 52], [40, 60], [41, 45], [42, 58], [30, 20], [25, 8], [10, -28], [-2, -22],
  [3, -24], [4, -20], [6, -22], [8, -18], [10, -22], [12, -16], [13, -20], [14, -12], [15, -18], [16, -10], [17, -14], [18, -6], [19, -8], [20, 2], [21, -2], [22, 10], [23, 6], [24, 18], [25, 12], [26, 28], [27, 22], [28, 38], [29, 30], [30, 48], [31, 40], [32, 58], [33, 50], [34, 65], [35, 55], [36, 45], [37, 62], [38, 50], [39, 70], [40, 55], [42, 48], [44, 62], [36, 80], [33, 72]];
const TA_B_OUT = [[32.8, 133], [38, 129], [33.6, 114], [39.5, 110], [42.5, 108], [44.5, 101], [45.5, 103], [31.1, 86], [35, 76], [45.5, 52.5], [46.2, 52.5], [38.5, 27], [-10.7, -18.8]];

// ---------- (b) VPD ----------
const VPD_B_XR = [-13.7, 99.3];
const VPD_B_YR = [-22, 64];
const VPD_B_XT = [0, 50];
const VPD_B_YT = [0, 25, 50];
const VPD_B_TREND = [[0, -5], [5, -3], [11, 1], [17, 5.5], [22, 10.8], [32, 17], [43, 24], [55, 32], [65, 40], [86, 60]];
const VPD_B_KDE = [
  [[[-10, -15], [-8, -8], [-2, 0], [5, 5], [12, 12], [18, 20], [22, 22], [26, 10], [35, 8], [28, 0], [20, -6], [12, -12], [5, -16], [-4, -19]]],
  [[[-5, -10], [-2, -5], [3, -1], [8, 2], [14, 6], [16, 2], [12, -3], [6, -7], [0, -11]]],
  [[[1, -7], [4, -4], [8, -2], [11, 0], [12, -2], [8, -5], [4, -7]]],
];
const VPD_B_PTS = [[20, 25], [22, 15], [25, 30], [28, 20], [30, 35], [32, 12], [34, 28], [35, 40], [36, 18], [38, 32], [40, 25], [42, 38], [44, 15], [46, 28], [48, 20], [30, 8], [25, 10], [18, 12], [38, 45], [33, 42], [0, -6], [2, -3], [3, -8], [5, -2], [6, -6], [7, 1], [8, -3], [9, 2], [10, -1], [11, 3], [12, 0], [13, 5], [14, 2], [15, 7], [16, 4], [4, -10], [9, -6], [1, -9], [17, 9], [19, 6],
  [1, -3], [2, -7], [3, -1], [4, -5], [5, -8], [6, 0], [7, -4], [8, 2], [9, -2], [10, 4], [11, 0], [12, 6], [13, 2], [14, 8], [15, 4], [16, 10], [18, 8], [20, 14], [21, 5], [23, 20], [24, 12], [26, 18], [27, 32], [29, 25], [31, 15], [33, 30], [36, 25], [37, 38], [39, 20], [41, 32], [43, 42], [45, 22], [47, 35], [50, 28]];
const VPD_B_OUT = [[46.6, 53.6], [53.8, 48.7], [54.5, 43.6], [44.4, 45.6], [45.7, 37.5], [61, 39.8], [52.7, 32.9], [52, 28.4], [52, 24], [46, 14.8], [42.6, 7.7], [39.7, 8.5], [56, 8.4], [66, 5.6], [72.6, 5.4], [79.6, 6.3], [80.3, 7], [80.7, 10], [86, 11], [86.3, 15.4], [20.6, -2.7]];

// ---------- (b) u ----------
const U_B_XR = [-0.6, 4.43];
const U_B_YR = [-21.8, 60.3];
const U_B_XT = [0, 2, 4];
const U_B_YT = [0, 25, 50];
const U_B_TREND = [[0.05, -9.5], [0.5, -6.5], [1.0, -3.5], [1.45, 0.5], [1.85, 6.6], [2.4, 15], [3.0, 23], [3.76, 34.7]];
const U_B_KDE = [
  [[[-0.1, -18], [0.0, -3], [0.4, 0], [1.0, 3], [1.5, 8], [1.8, 20], [2.2, 28], [2.8, 30], [3.3, 28], [3.3, 18], [2.7, 10], [2.2, 3], [1.8, -5], [1.3, -12], [0.7, -18], [0.2, -20]]],
  [[[0.1, -12], [0.4, -6], [0.9, -3], [1.4, 0], [1.75, 3], [1.8, -2], [1.4, -7], [0.9, -12], [0.4, -15]]],
  [[[0.5, -10], [0.9, -6], [1.3, -3], [1.6, -1], [1.6, -4], [1.2, -8], [0.8, -11]]],
];
const U_B_PTS = [[0.2, -10], [0.3, -6], [0.4, -12], [0.5, -8], [0.6, -4], [0.7, -10], [0.8, -6], [0.9, -2], [1.0, -7], [1.1, -4], [1.2, -1], [1.3, -5], [1.4, 0], [1.5, -2], [1.6, 2], [1.7, 4], [1.8, 8], [1.9, 12], [2.0, 6], [2.1, 18], [2.2, 10], [2.3, 22], [2.4, 14], [2.5, 26], [2.6, 18], [2.7, 24], [2.8, 16], [2.9, 28], [3.1, 20], [3.2, 26], [2.0, 24], [1.9, 27], [2.3, 5],
  [0.15, -8], [0.25, -12], [0.35, -9], [0.45, -5], [0.55, -11], [0.65, -7], [0.75, -4], [0.85, -9], [0.95, -5], [1.05, -2], [1.15, -6], [1.25, -3], [1.35, -1], [1.45, -4], [1.55, 1], [1.65, -1], [1.75, 5], [1.85, 3], [1.95, 14], [2.05, 10], [2.15, 22], [2.25, 15], [2.35, 25], [2.45, 18], [2.55, 22], [2.65, 28], [2.75, 20], [2.85, 25], [3.0, 18], [3.3, 22], [3.4, 28], [1.0, -10], [0.5, -14]];
const U_B_OUT = [[2.0, 51.5], [0.05, 9.1], [0.13, 5.3], [1.88, 32], [2.04, 30], [2.27, 35.3], [2.49, 30.4], [2.64, 36.5], [2.87, 31.6], [2.99, 37.6], [3.33, 38], [3.03, 23], [3.2, 12.7], [3.46, 18.5], [3.5, 12], [3.58, 28.9], [3.58, 27.4], [3.78, 15.4], [3.79, 8.9], [2.87, 11]];

// ---------- (b) CO2 ----------
const CO2_B_XR = [692.6, 1245];
const CO2_B_YR = [-26.7, 49];
const CO2_B_XT = [800, 1000, 1200];
const CO2_B_YT = [-20, 0, 20, 40];
const CO2_B_TREND = [[737, 23], [760, 16], [781, 9], [800, 5], [814, 2], [835, -1], [856, -3.8], [900, -4], [1000, -2.1], [1100, 1.4], [1200, 3.8]];
const CO2_B_KDE = [
  [[[745, 20], [765, 15], [785, 15], [800, 10], [830, 3], [870, 0], [940, 0], [980, 0], [975, -6], [920, -8], [900, -10], [880, -15], [850, -18], [830, -16], [820, -10], [800, -3], [780, 5], [755, 12]]],
  [[[770, 12], [790, 10], [805, 5], [830, 0], [860, -3], [890, -4], [870, -7], [840, -8], [815, -3], [795, 2], [775, 7]]],
  [[[790, 6], [805, 3], [825, -1], [845, -3], [840, -6], [820, -4], [800, 0]]],
];
const CO2_B_PTS = [[760, 18], [770, 12], [775, 20], [780, 8], [785, 15], [790, 5], [795, 10], [800, 0], [805, 8], [810, -2], [815, 4], [820, -5], [825, 0], [830, -8], [835, -3], [840, -10], [845, -5], [850, -12], [860, -7], [870, -4], [880, -9], [890, -5], [900, -7], [920, -3], [940, -5], [800, 15], [790, 20], [810, 12], [860, -15], [830, -14],
  [745, 22], [755, 14], [765, 18], [768, 8], [772, 15], [778, 4], [782, 12], [788, 2], [792, 8], [798, -2], [802, 5], [808, -4], [812, 2], [818, -7], [822, -2], [828, -9], [832, -4], [838, -12], [842, -6], [848, -9], [855, -14], [865, -10], [875, -6], [885, -12], [895, -4], [910, -8], [930, -5], [950, -3], [820, 10], [840, -16]];
const CO2_B_OUT = [[766, 41.6], [763, 37.7], [779, 34.4], [766, 27.3], [792, 29.5], [737, 25.9], [757, 24.5], [757, 28.4], [775.8, -2.7], [805, 26], [805, 23], [891, -17.5], [876, -18.6], [889, -19.3], [918, -13.6], [947, 1.1], [986, 1], [982, -14.7], [1000, -1], [1018, -4], [1051, 5.2], [1138, 3], [1200, 15.2]];

// ---------- (b) LW ----------
const LW_B_XR = [130, 484];
const LW_B_YR = [-18.2, 27.9];
const LW_B_XT = [200, 400];
const LW_B_YT = [0, 20];
const LW_B_TREND = [[175, -8.8], [210, -7], [245, -5], [275, -3.5], [302, -2.4], [325, -0.8], [351, 1], [370, 2.6], [386, 4], [410, 4.7], [434, 5.3]];
const LW_B_KDE = [
  [[[190, -8], [215, -5], [240, -1], [270, 0], [300, 2], [320, 4], [345, 6], [380, 10], [405, 10], [420, 5], [410, -2], [395, -5], [365, -6], [340, -8], [320, -12], [300, -12], [270, -10], [240, -10], [205, -10]]],
  [[[230, -6], [260, -4], [290, -2], [320, 0], [350, 2], [375, 4], [390, 2], [375, -2], [345, -3], [310, -5], [270, -7], [240, -8]]],
  [[[300, -3], [330, -1], [355, 1], [380, 3], [385, 0], [360, -2], [330, -3], [305, -5]]],
];
const LW_B_PTS = [[220, -6], [230, -3], [240, -7], [250, -4], [260, -1], [265, -6], [275, -3], [280, -8], [285, 0], [290, -4], [295, -2], [300, 1], [305, -3], [310, -1], [315, 2], [320, -2], [325, 1], [330, 3], [335, -1], [340, 2], [345, 4], [350, 0], [355, 3], [360, 5], [365, 2], [370, 4], [375, 6], [380, 3], [385, 8], [390, 5], [395, 9], [400, 6], [340, -8], [355, -6], [290, -10], [320, -8],
  [215, -9], [225, -5], [235, -9], [245, -2], [255, -7], [262, -3], [270, -5], [278, 0], [282, -5], [288, -1], [292, -7], [298, -3], [302, 3], [308, -2], [312, 0], [318, 3], [322, -4], [328, 1], [332, -2], [338, 4], [342, -1], [348, 5], [352, 2], [358, 0], [362, 6], [368, 3], [372, 8], [378, 5], [382, 2], [388, 6], [392, 10], [398, 3], [405, 8], [350, -10], [330, -9], [300, -9]];
const LW_B_OUT = [[436, 23.9], [374, 22.8], [378.4, 14.9], [361.3, 13.7], [363, 10.4], [367.7, 7.7], [308, 6.2], [259.6, 2.9], [175.4, -3.2], [180, -6.2], [182, -7.5], [198, -4], [195.4, -9], [217.5, -11.8], [219, -14.1], [233.7, -12.5], [330, -12.6], [416, -1.4], [379, -3.7]];

// ---------- (b) P ----------
const P_B_XR = [930.5, 992.3];
const P_B_YR = [-15.3, 13.7];
const P_B_XT = [950, 975];
const P_B_YT = [-10, 0, 10];
const P_B_TREND = [[939, -1.4], [944, -1.1], [949, -0.9], [953, -0.8], [956.5, -0.5], [960, 0], [964, 0.6], [968, 1.5], [971, 2.4], [978, 4.1], [984, 5.6]];
const P_B_KDE = [
  [[[939, -5], [938, -2], [941, 1], [945, 3], [948, 4], [952, 2], [958, 2], [963, 3], [968, 5], [972, 7], [978, 6], [982, 4], [980, 1], [974, -1], [968, -2], [960, -3], [952, -5], [945, -6]],
   [[939, -12], [941, -11.5], [941.5, -13], [939.5, -13.3]]],
  [[[943, -3], [945, -1], [950, 0], [956, 0], [962, 1], [967, 2.5], [970, 1], [965, -1], [958, -2], [950, -3.5]]],
  [[[951, -1.8], [955, -0.7], [960, 0], [964, 0.8], [966, 0], [961, -1], [956, -1.8]]],
];
const P_B_PTS = [[944, -3], [946, -1], [947, -4], [948, 1], [949, -2], [950, -4], [951, 0], [952, -2], [953, -3], [954, -1], [955, 1], [956, -2], [957, 0], [958, -1], [959, 1], [960, -0.5], [961, 1.5], [962, 0], [963, 2], [964, 0.5], [965, 2.5], [966, 1], [967, 3], [968, 1.5], [970, 3], [972, 2], [974, 4], [976, 3], [978, 5], [980, 4], [946, 2], [948, 4], [952, 3], [955, -4], [962, -2],
  [943, -2], [945, -4], [946, 0], [947, -2], [948, -3], [949, 0], [950, -2], [951, -3], [952, 0.5], [953, -1.5], [954, -3], [955, -0.5], [956, 0.5], [957, -1.5], [958, 0.5], [959, -2], [960, 1], [961, -1], [962, 1.5], [963, -0.5], [964, 2], [965, 0], [966, 2.5], [967, 1], [968, 3.5], [969, 2], [970, 4], [971, 1.5], [973, 4.5], [975, 3], [977, 6], [979, 3], [981, 5], [947, 3], [950, 4], [958, 2.5], [940, -4]];
const P_B_OUT = [[942.3, 11.5], [942, 10.8], [942, 10.2], [941.4, 8.8], [943.4, 6.7], [943, 4.6], [941.7, 3.7], [944.1, -6.0], [943.8, -7.3], [945.6, -7.4], [939.2, -11.8], [939.7, -12.6], [940.4, -13.1], [943.8, -11.8], [944.4, -13.2], [969, 6.6], [969, 5.6], [974, 6.9], [976.4, 7.2], [977, 6.6], [984.3, 1.7], [982.4, 2.7]];

// ---------- (b) Pre ----------
const PRE_B_XR = [-0.012, 0.266];
const PRE_B_YR = [-0.0132, 0.0284];
const PRE_B_XT = [0, 0.1, 0.2];
const PRE_B_YT = [0, 0.02];
const PRE_B_TREND = [[0.0, 0.0005], [0.254, 0.027]];
const PRE_B_KDE = [
  [[[-0.007, -0.0005], [-0.004, 0.0015], [0.002, 0.0015], [0.006, 0.0008], [0.006, -0.0008], [0.002, -0.002], [-0.003, -0.002]]],
  [[[-0.002, 0], [0.001, 0.001], [0.004, 0.0005], [0.002, -0.0008]]],
  [],
];
const PRE_B_PTS = [[0, 0.0035], [0, 0.003], [0, 0.0025], [0, 0.002], [0, 0.0015], [0, 0.001], [0, 0.0005], [0.001, 0], [0.002, 0.0005], [0, -0.0005], [0, -0.0015], [0.003, 0.0008], [0.004, 0.0003]];
const PRE_B_OUT = [[0.254, 0.0272], [0.254, 0.0173], [0, -0.0025], [0, -0.003], [0, -0.004], [0, -0.0045], [0, -0.0055], [0, -0.0075], [0, -0.009], [0, -0.0125]];

// ---------- names & colours ----------
const NAME_SW = 'SW (W m{sup|\u22122})';
const NAME_LAI = 'LAI (m{sup|2} m{sup|\u22122})';
const NAME_TA = 'Ta (\u00b0C)';
const NAME_U = 'u (m s{sup|\u22121})';
const NAME_VPD = 'VPD (hPa)';
const NAME_CO2 = 'CO{sub|2} (mg m{sup|\u22123})';
const NAME_LW = 'LW (W m{sup|\u22122})';
const NAME_P = 'P (hPa)';
const NAME_PRE = 'Pre (mm)';
const NAME_SIF = 'SIF (mW m{sup|\u22122} sr{sup|\u22121} nm{sup|\u22121})';
const Y_NAME = 'SHAP value\n[impact on LE]';

const C_SW = '#1f9fa1';
const C_LAI = '#1d8420';
const C_TA = '#a51c1c';
const C_U = '#2c4a70';
const C_VPD = '#ff2d95';
const C_CO2 = '#7866f2';
const C_LW = '#681c9e';
const C_P = '#d8661c';
const C_PRE = '#1e8fff';
const C_SIF = '#e2aa18';

// layout (pixels)
const COL_LEFT = [294, 1074, 1899, 2685];
const COL_W = [483, 483, 504, 505];
const ROW_TOP = [60, 703, 1341, 1985, 2627];
const ROW_H = 432;

const mk = (col, row, xr, yr, xt, yt, xdec, ydec, xname, sup, color, kde, pts, out, trend) =>
  ({ col, row, xr, yr, xt, yt, xdec, ydec, xname, sup, color, kde, pts, out, trend });

const PANELS = [
  mk(0, 0, SW_A_XR, SW_A_YR, SW_A_XT, SW_A_YT, 0, 0, NAME_SW, true, C_SW, SW_A_KDE, SW_A_PTS, SW_A_OUT, SW_A_TREND),
  mk(1, 0, LAI_A_XR, LAI_A_YR, LAI_A_XT, LAI_A_YT, 0, 0, NAME_LAI, true, C_LAI, LAI_A_KDE, LAI_A_PTS, LAI_A_OUT, LAI_A_TREND),
  mk(0, 1, TA_A_XR, TA_A_YR, TA_A_XT, TA_A_YT, 0, 0, NAME_TA, false, C_TA, TA_A_KDE, TA_A_PTS, TA_A_OUT, TA_A_TREND),
  mk(1, 1, U_A_XR, U_A_YR, U_A_XT, U_A_YT, 0, 0, NAME_U, true, C_U, U_A_KDE, U_A_PTS, U_A_OUT, U_A_TREND),
  mk(0, 2, VPD_A_XR, VPD_A_YR, VPD_A_XT, VPD_A_YT, 0, 0, NAME_VPD, false, C_VPD, VPD_A_KDE, VPD_A_PTS, VPD_A_OUT, VPD_A_TREND),
  mk(1, 2, CO2_A_XR, CO2_A_YR, CO2_A_XT, CO2_A_YT, 0, 0, NAME_CO2, true, C_CO2, CO2_A_KDE, CO2_A_PTS, CO2_A_OUT, CO2_A_TREND),
  mk(0, 3, LW_A_XR, LW_A_YR, LW_A_XT, LW_A_YT, 0, 0, NAME_LW, true, C_LW, LW_A_KDE, LW_A_PTS, LW_A_OUT, LW_A_TREND),
  mk(1, 3, P_A_XR, P_A_YR, P_A_XT, P_A_YT, 0, 0, NAME_P, false, C_P, P_A_KDE, P_A_PTS, P_A_OUT, P_A_TREND),
  mk(0, 4, PRE_A_XR, PRE_A_YR, PRE_A_XT, PRE_A_YT, 1, 2, NAME_PRE, false, C_PRE, PRE_A_KDE, PRE_A_PTS, PRE_A_OUT, PRE_A_TREND),
  mk(2, 0, SW_B_XR, SW_B_YR, SW_B_XT, SW_B_YT, 0, 0, NAME_SW, true, C_SW, SW_B_KDE, SW_B_PTS, SW_B_OUT, SW_B_TREND),
  mk(3, 0, SIF_B_XR, SIF_B_YR, SIF_B_XT, SIF_B_YT, 0, 0, NAME_SIF, true, C_SIF, SIF_B_KDE, SIF_B_PTS, SIF_B_OUT, SIF_B_TREND),
  mk(2, 1, LAI_B_XR, LAI_B_YR, LAI_B_XT, LAI_B_YT, 0, 0, NAME_LAI, true, C_LAI, LAI_B_KDE, LAI_B_PTS, LAI_B_OUT, LAI_B_TREND),
  mk(3, 1, TA_B_XR, TA_B_YR, TA_B_XT, TA_B_YT, 0, 0, NAME_TA, false, C_TA, TA_B_KDE, TA_B_PTS, TA_B_OUT, TA_B_TREND),
  mk(2, 2, VPD_B_XR, VPD_B_YR, VPD_B_XT, VPD_B_YT, 0, 0, NAME_VPD, false, C_VPD, VPD_B_KDE, VPD_B_PTS, VPD_B_OUT, VPD_B_TREND),
  mk(3, 2, U_B_XR, U_B_YR, U_B_XT, U_B_YT, 0, 0, NAME_U, true, C_U, U_B_KDE, U_B_PTS, U_B_OUT, U_B_TREND),
  mk(2, 3, CO2_B_XR, CO2_B_YR, CO2_B_XT, CO2_B_YT, 0, 0, NAME_CO2, true, C_CO2, CO2_B_KDE, CO2_B_PTS, CO2_B_OUT, CO2_B_TREND),
  mk(3, 3, LW_B_XR, LW_B_YR, LW_B_XT, LW_B_YT, 0, 0, NAME_LW, true, C_LW, LW_B_KDE, LW_B_PTS, LW_B_OUT, LW_B_TREND),
  mk(2, 4, P_B_XR, P_B_YR, P_B_XT, P_B_YT, 0, 0, NAME_P, false, C_P, P_B_KDE, P_B_PTS, P_B_OUT, P_B_TREND),
  mk(3, 4, PRE_B_XR, PRE_B_YR, PRE_B_XT, PRE_B_YT, 1, 2, NAME_PRE, false, C_PRE, PRE_B_KDE, PRE_B_PTS, PRE_B_OUT, PRE_B_TREND),
];

const FS_TICK = 50;
const FS_NAME = 52;

const fmt = (v: number, d: number) => {
  const s = Math.abs(v).toFixed(d);
  return (v < -1e-12 ? '\u2212' : '') + s;
};

const tint = (hex: string, t: number, a: number) => {
  const n = parseInt(hex.slice(1), 16);
  const mix = (c: number) => Math.round(c * (1 - t) + 255 * t);
  return `rgba(${mix((n >> 16) & 255)},${mix((n >> 8) & 255)},${mix(n & 255)},${a})`;
};

const labelWidth = (s: string) => {
  let w = 0;
  for (const ch of s) w += ch === '\u2212' ? 0.564 : ch === '.' ? 0.25 : 0.5;
  return w * FS_TICK;
};

const RICH = {
  sup: { fontSize: 36, verticalAlign: 'top', fontFamily: FONT, color: '#000' },
  sub: { fontSize: 36, verticalAlign: 'bottom', fontFamily: FONT, color: '#000' },
};

function buildOption() {
  const grid: any[] = [];
  const xAxis: any[] = [];
  const yAxis: any[] = [];
  const series: any[] = [];

  PANELS.forEach((p: any, i: number) => {
    grid.push({
      left: COL_LEFT[p.col], top: ROW_TOP[p.row], width: COL_W[p.col], height: ROW_H,
      show: true, backgroundColor: BG_UP, borderWidth: 0, containLabel: false,
    });
    const axisCommon = {
      type: 'value',
      gridIndex: i,
      splitLine: { show: false },
      axisLine: { show: true, onZero: false, lineStyle: { color: AXC, width: 2.5 } },
    };
    xAxis.push({
      ...axisCommon,
      min: p.xr[0], max: p.xr[1],
      axisTick: { show: true, length: 8, lineStyle: { color: AXC, width: 2.5 }, customValues: p.xt },
      axisLabel: {
        customValues: p.xt, formatter: (v: number) => fmt(v, p.xdec),
        fontSize: FS_TICK, fontFamily: FONT, color: '#000', margin: 9,
      },
      name: p.xname, nameLocation: 'middle', nameGap: p.sup ? 66 : 58,
      nameTextStyle: { fontSize: FS_NAME, fontFamily: FONT, color: '#000', lineHeight: p.sup ? 84 : 60, rich: RICH },
    });
    const maxW = Math.max(...p.yt.map((v: number) => labelWidth(fmt(v, p.ydec))));
    yAxis.push({
      ...axisCommon,
      min: p.yr[0], max: p.yr[1],
      axisTick: { show: true, length: 8, lineStyle: { color: AXC, width: 2.5 }, customValues: p.yt },
      axisLabel: {
        customValues: p.yt, formatter: (v: number) => fmt(v, p.ydec),
        fontSize: FS_TICK, fontFamily: FONT, color: '#000', margin: 15,
      },
      name: Y_NAME, nameLocation: 'middle', nameGap: Math.round(maxW + 24),
      nameTextStyle: { fontSize: FS_NAME, fontFamily: FONT, color: '#000', lineHeight: 60 },
    });

    // lower (negative) background band
    series.push({
      type: 'custom', xAxisIndex: i, yAxisIndex: i, silent: true, z: 1,
      data: [[p.xr[0], p.yr[0]]],
      renderItem: (_params: any, api: any) => {
        const a = api.coord([p.xr[0], 0]);
        const b = api.coord([p.xr[1], p.yr[0]]);
        return { type: 'rect', shape: { x: a[0], y: a[1], width: b[0] - a[0], height: b[1] - a[1] }, style: { fill: BG_DOWN } };
      },
    });

    // KDE contour fills
    const polys: any[] = [];
    p.kde.forEach((level: number[][][], lv: number) => level.forEach((poly) => polys.push({ lv, poly })));
    series.push({
      type: 'custom', xAxisIndex: i, yAxisIndex: i, silent: true, z: 2, clip: true,
      data: polys.map((q) => [q.poly[0][0], q.poly[0][1]]),
      renderItem: (params: any, api: any) => {
        const q = polys[params.dataIndex];
        return {
          type: 'polygon',
          shape: { points: q.poly.map((pt: number[]) => api.coord(pt)), smooth: 0.4 },
          style: { fill: tint(p.color, KDE_TINT[q.lv], KDE_OPACITY) },
        };
      },
    });

    series.push({
      type: 'scatter', xAxisIndex: i, yAxisIndex: i, silent: true, z: 3,
      data: p.pts, symbolSize: 7, itemStyle: { color: p.color, opacity: 0.45 },
    });
    series.push({
      type: 'scatter', xAxisIndex: i, yAxisIndex: i, silent: true, z: 3,
      data: p.out, symbolSize: 7, itemStyle: { color: p.color, opacity: 0.85 },
    });
    series.push({
      type: 'line', xAxisIndex: i, yAxisIndex: i, silent: true, z: 4,
      data: p.trend, showSymbol: false, symbol: 'none', smooth: 0.3,
      lineStyle: { color: '#ffffff', width: 4, type: [14, 8] },
    });
  });

  return {
    animation: false,
    backgroundColor: '#ffffff',
    grid, xAxis, yAxis, series,
    graphic: [
      { type: 'text', left: 12, top: 16, style: { text: '(a)', font: `bold 60px ${FONT}`, fill: '#000' } },
      { type: 'text', left: 1650, top: 16, style: { text: '(b)', font: `bold 60px ${FONT}`, fill: '#000' } },
    ],
  };
}

export default function App() {
  const ref = useRef<HTMLDivElement>(null);
  useEffect(() => {
    if (!ref.current) return;
    const chart = echarts.init(ref.current, null, { renderer: 'svg' });
    chart.setOption(buildOption() as any);
    return () => chart.dispose();
  }, []);
  return (
    <div
      ref={ref}
      style={{ position: 'absolute', left: 0, top: 0, width: 3215, height: 3215, background: '#fff' }}
    />
  );
}
